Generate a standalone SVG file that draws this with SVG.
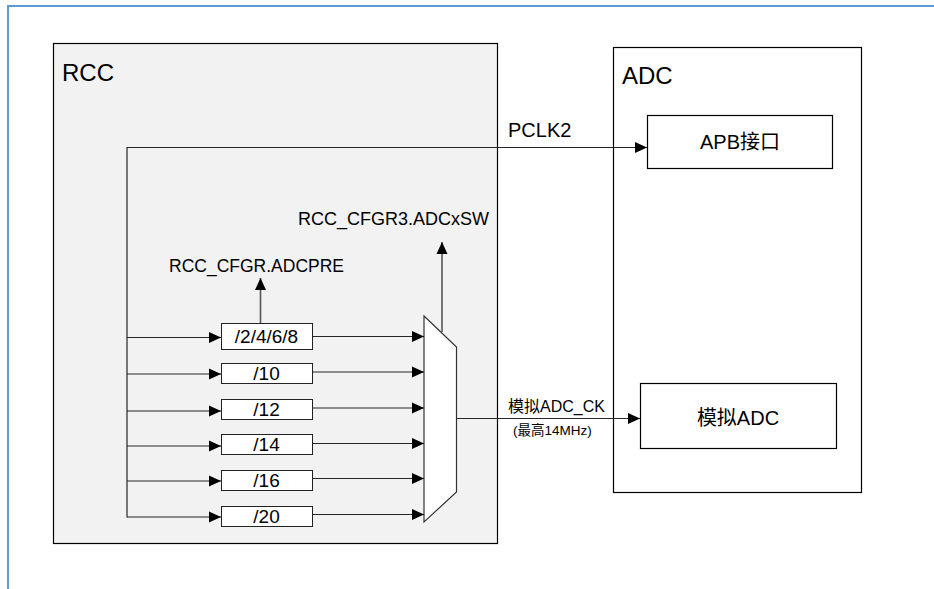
<svg xmlns="http://www.w3.org/2000/svg" width="934" height="589" viewBox="0 0 934 589">
<style>
text{font-family:"Liberation Sans","Noto Sans CJK SC",sans-serif;fill:#000}
.box{stroke:#000;stroke-width:1.2}
.div{fill:#fff;stroke:#222;stroke-width:1}
.div-t{font-size:19px;text-anchor:middle}
.ln{fill:none;stroke:#262626;stroke-width:1.2}
.vl{fill:none;stroke:#555;stroke-width:1.6}
</style>
<defs>
<marker id="ah" markerUnits="userSpaceOnUse" markerWidth="13" markerHeight="12" refX="12" refY="6" orient="auto">
<path d="M0,0.5 L12,6 L0,11.5 Z" fill="#000"/>
</marker>
</defs>
<rect width="934" height="589" fill="#fff"/>
<path d="M8,589 V6 H934" fill="none" stroke="#5b9bd5" stroke-width="2"/>
<g id="rcc">
<rect class="box" x="53.5" y="43.5" width="444" height="500" fill="#f2f2f2"/>
<text x="62" y="81" font-size="24">RCC</text>
</g>
<g id="adc">
<rect class="box" x="613.5" y="47.5" width="248" height="445" fill="#fff"/>
<text x="622" y="84" font-size="24">ADC</text>
</g>
<g id="apb">
<rect class="box" x="647.5" y="115.5" width="185" height="53" fill="#fff"/>
<text x="740" y="149" font-size="20" text-anchor="middle">APB接口</text>
</g>
<g id="analog-adc">
<rect class="box" x="640.5" y="383.5" width="196" height="65" fill="#fff"/>
<text x="738" y="425" font-size="20" text-anchor="middle">模拟ADC</text>
</g>
<g id="div-2468">
<rect class="div" x="221.5" y="323.5" width="91" height="26"/>
<text class="div-t" x="266.5" y="343">/2/4/6/8</text>
</g>
<g id="div-10">
<rect class="div" x="221.5" y="363.5" width="91" height="20"/>
<text class="div-t" x="266.5" y="380">/10</text>
</g>
<g id="div-12">
<rect class="div" x="221.5" y="399.5" width="91" height="20"/>
<text class="div-t" x="266.5" y="416">/12</text>
</g>
<g id="div-14">
<rect class="div" x="221.5" y="434.5" width="91" height="20"/>
<text class="div-t" x="266.5" y="451">/14</text>
</g>
<g id="div-16">
<rect class="div" x="221.5" y="470.5" width="91" height="20"/>
<text class="div-t" x="266.5" y="487">/16</text>
</g>
<g id="div-20">
<rect class="div" x="221.5" y="506.5" width="91" height="20"/>
<text class="div-t" x="266.5" y="523">/20</text>
</g>
<g id="mux">
<polygon points="424,316 456.5,347 456.5,492 424,522" fill="#fff" stroke="#333" stroke-width="1.2"/>
</g>
<g id="labels">
<text x="508" y="137" font-size="20">PCLK2</text>
<text x="298" y="225" font-size="18">RCC_CFGR3.ADCxSW</text>
<text x="169" y="272" font-size="17.5">RCC_CFGR.ADCPRE</text>
<text x="508" y="412" font-size="16">模拟ADC_CK</text>
<text x="513" y="435" font-size="13.5">(最高14MHz)</text>
</g>
<g id="connectors">
<path class="ln" d="M127,517.5 V147.5 H647" marker-end="url(#ah)"/>
<path class="ln" d="M127,337.5 H221" marker-end="url(#ah)"/>
<path class="ln" d="M127,374 H221" marker-end="url(#ah)"/>
<path class="ln" d="M127,411 H221" marker-end="url(#ah)"/>
<path class="ln" d="M127,446 H221" marker-end="url(#ah)"/>
<path class="ln" d="M127,481 H221" marker-end="url(#ah)"/>
<path class="ln" d="M127,517 H221" marker-end="url(#ah)"/>
<path class="ln" d="M312.5,336.5 H424" marker-end="url(#ah)"/>
<path class="ln" d="M312.5,372 H424" marker-end="url(#ah)"/>
<path class="ln" d="M312.5,408 H424" marker-end="url(#ah)"/>
<path class="ln" d="M312.5,443.5 H424" marker-end="url(#ah)"/>
<path class="ln" d="M312.5,478.5 H424" marker-end="url(#ah)"/>
<path class="ln" d="M312.5,514.5 H424" marker-end="url(#ah)"/>
<path class="ln" d="M456.5,418.5 H640" marker-end="url(#ah)"/>
<path class="vl" d="M260.5,323 V278" marker-end="url(#ah)"/>
<path class="vl" d="M442,332 V242" marker-end="url(#ah)"/>
</g>
</svg>
